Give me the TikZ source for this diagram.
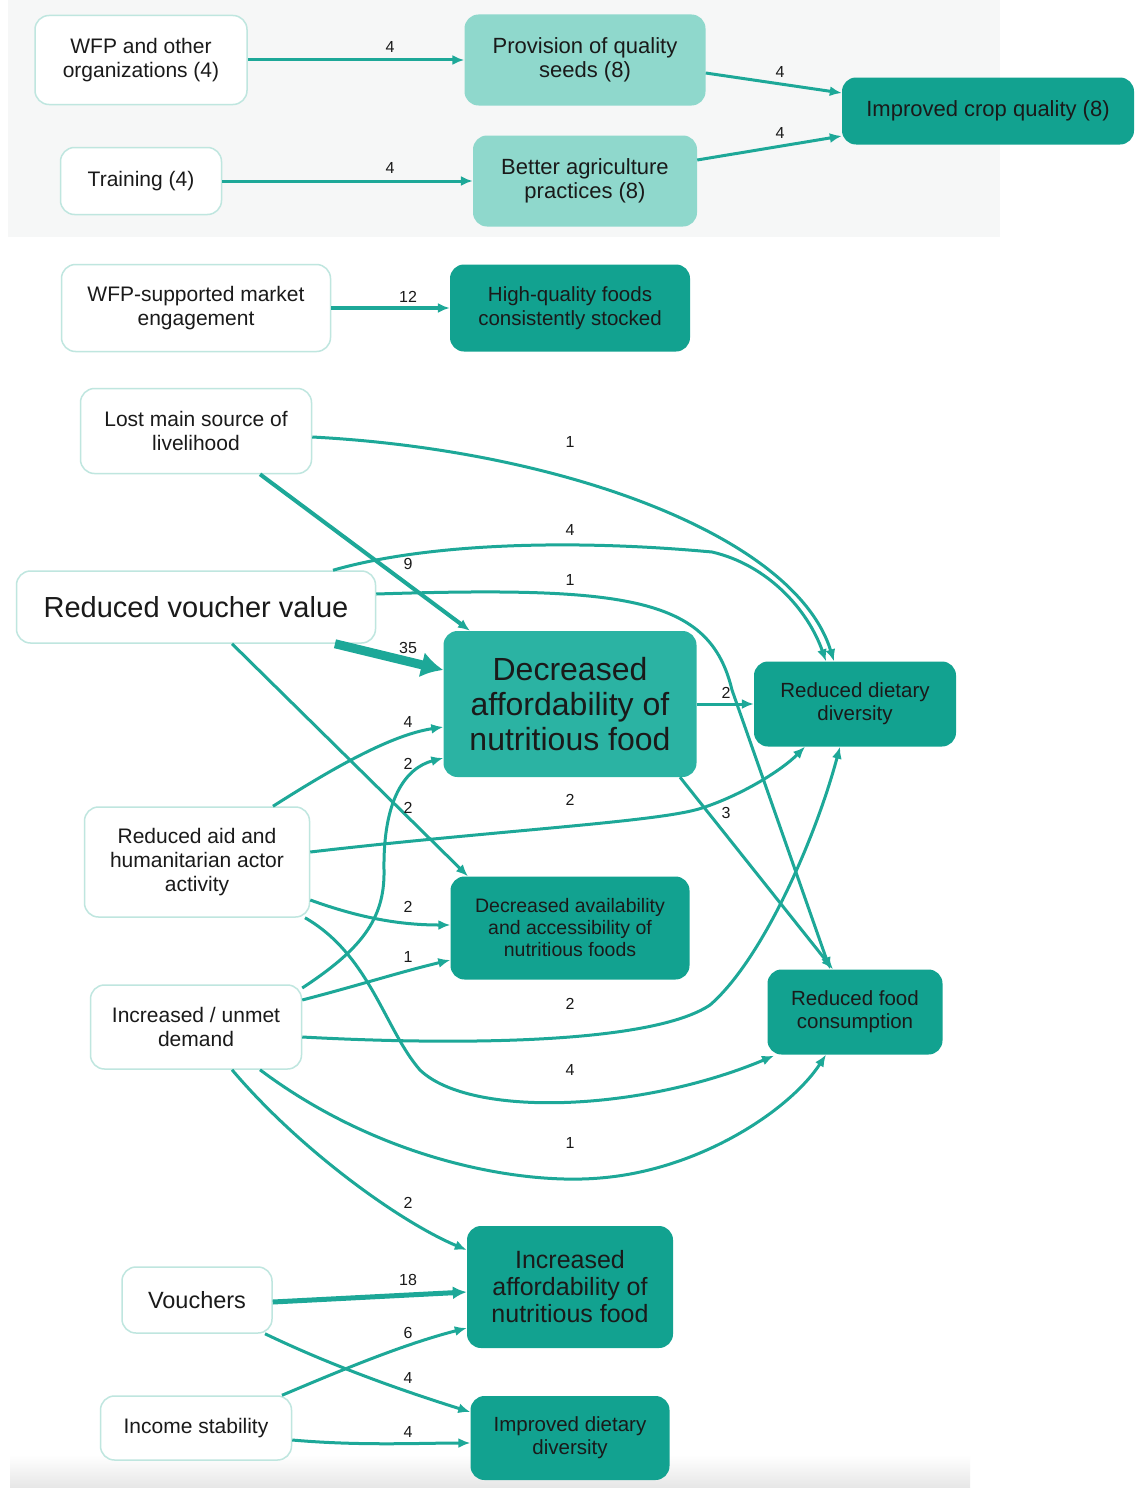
\documentclass[tikz,border=0pt]{standalone}
\usepackage{fontspec}
\setmainfont{Liberation Sans}
\usetikzlibrary{arrows.meta}
\definecolor{edgec}{HTML}{1DA898}
\definecolor{wborder}{HTML}{BFE6DF}
\definecolor{lightteal}{HTML}{8FD8CC}
\definecolor{darkteal}{HTML}{12A290}
\definecolor{midteal}{HTML}{2BB3A3}
\definecolor{txt}{HTML}{1A1A1A}
\definecolor{bgtop}{HTML}{F6F7F7}
\definecolor{bgbot}{HTML}{E6E6E6}
\tikzset{
  base/.style={rounded corners=14pt, align=center, inner sep=2pt, text=txt, font=\fontsize{21}{24}\selectfont},
  wnode/.style={base, draw=wborder, line width=1.5pt, fill=white},
  lnode/.style={base, fill=lightteal, draw=none},
  dnode/.style={base, fill=darkteal, draw=none},
  mnode/.style={base, fill=midteal, draw=none},
  lbl/.style={font=\fontsize{16}{18}\selectfont, text=txt, inner sep=0pt},
  edge/.style={draw=edgec, line width=3pt, -{Latex[length=12pt,width=10pt]}},
}
\begin{document}
\begin{tikzpicture}[x=1pt,y=-1pt]
\useasboundingbox (0,0) rectangle (1135,1488);
\fill[white] (0,0) rectangle (1135,1488);
\fill[bgtop] (8,0) rectangle (1000,237);
\shade[top color=white, bottom color=bgbot] (10,1455) rectangle (970,1488);

% ---------- nodes ----------
\node[wnode, minimum width=212pt, minimum height=89pt] (wfp) at (141,60) {WFP and other\\organizations (4)};
\node[wnode, minimum width=161pt, minimum height=67pt] (train) at (141,181) {Training (4)};
\node[lnode, minimum width=241pt, minimum height=91pt, font=\fontsize{22}{24}\selectfont] (seeds) at (585,60) {Provision of quality\\seeds (8)};
\node[lnode, minimum width=224pt, minimum height=91pt, font=\fontsize{22}{24}\selectfont] (agri) at (585,181) {Better agriculture\\practices (8)};
\node[dnode, minimum width=292pt, minimum height=67pt, font=\fontsize{22}{24}\selectfont] (crop) at (988,111) {Improved crop quality (8)};

\node[wnode, minimum width=269pt, minimum height=87pt] (market) at (196,308) {WFP-supported market\\engagement};
\node[dnode, minimum width=240pt, minimum height=87pt, font=\fontsize{20.5}{24}\selectfont] (hq) at (570,308) {High-quality foods\\consistently stocked};

\node[wnode, minimum width=231pt, minimum height=85pt] (lost) at (196,431) {Lost main source of\\livelihood};
\node[wnode, minimum width=359pt, minimum height=72pt, font=\fontsize{29}{32}\selectfont] (rvv) at (196,607) {Reduced voucher value};
\node[mnode, minimum width=253pt, minimum height=146pt, font=\fontsize{32}{35}\selectfont] (daff) at (570,704) {Decreased\\affordability of\\nutritious food};
\node[dnode, minimum width=202pt, minimum height=85pt, font=\fontsize{20.5}{23}\selectfont] (rdd) at (855,704) {Reduced dietary\\diversity};
\node[wnode, minimum width=225pt, minimum height=110pt] (aid) at (197,862) {Reduced aid and\\humanitarian actor\\activity};
\node[dnode, minimum width=239pt, minimum height=103pt, font=\fontsize{19.5}{22}\selectfont] (davail) at (570,928) {Decreased availability\\and accessibility of\\nutritious foods};
\node[wnode, minimum width=211pt, minimum height=84pt] (demand) at (196,1027) {Increased / unmet\\demand};
\node[dnode, minimum width=175pt, minimum height=85pt, font=\fontsize{20.5}{23}\selectfont] (rfc) at (855,1012) {Reduced food\\consumption};

\node[dnode, minimum width=206pt, minimum height=122pt, font=\fontsize{25}{27}\selectfont] (iaff) at (570,1287) {Increased\\affordability of\\nutritious food};
\node[wnode, minimum width=150pt, minimum height=66pt, font=\fontsize{23.5}{26}\selectfont] (vouch) at (197,1300) {Vouchers};
\node[dnode, minimum width=199pt, minimum height=84pt, font=\fontsize{20.5}{23}\selectfont] (idd) at (570,1438) {Improved dietary\\diversity};
\node[wnode, minimum width=191pt, minimum height=64pt] (income) at (196,1428) {Income stability};

% ---------- edges ----------
\draw[edge] (wfp.east) -- (seeds.west);
\draw[edge] (train.east) -- (agri.west);
\draw[edge] ([yshift=-13pt]seeds.east) -- ([yshift=18pt]crop.west);
\draw[edge] ([yshift=21pt]agri.east) -- ([yshift=-25pt]crop.west);
\draw[edge, line width=4pt] (market.east) -- (hq.west);

\draw[edge] ([yshift=-6pt]lost.east) .. controls (560,450) and (795,535) .. ([xshift=-21pt]rdd.north);
\draw[edge, line width=4pt] ([xshift=64pt]lost.south) -- ([xshift=-100pt]daff.north);
\draw[edge] ([xshift=137pt]rvv.north) .. controls (420,545) and (560,538) .. (712,552) .. controls (768,565) and (808,610) .. ([xshift=-29pt]rdd.north);
\draw[edge] ([yshift=13pt]rvv.east) .. controls (630,586) and (710,598) .. (732,690) -- ([xshift=-25pt]rfc.north);
\draw[draw=edgec, line width=9pt, -{Latex[length=22pt,width=26pt]}] ([xshift=139pt]rvv.south) -- ([yshift=34pt]daff.west);
\draw[edge] ([xshift=36pt]rvv.south) -- ([xshift=-102pt]davail.north);
\draw[edge] (daff.east) -- (rdd.west);
\draw[edge] ([xshift=110pt]daff.south) -- ([xshift=-22pt]rfc.north);

\draw[edge] ([xshift=76pt]aid.north) .. controls (330,770) and (390,735) .. ([yshift=-23pt]daff.west);
\draw[edge] ([yshift=39pt]demand.east) .. controls (360,950) and (385,920) .. (384,870) .. controls (383,800) and (405,768) .. ([yshift=-54pt]daff.west);
\draw[edge] ([yshift=10pt]aid.east) .. controls (500,830) and (660,822) .. (702,808) .. controls (742,795) and (782,770) .. ([xshift=-50pt]rdd.south);
\draw[edge] ([yshift=-38pt]aid.east) .. controls (360,918) and (400,925) .. ([yshift=3pt]davail.west);
\draw[edge] ([xshift=108pt]aid.south) .. controls (370,955) and (385,1030) .. (420,1070) .. controls (470,1118) and (640,1112) .. ([xshift=-81pt,yshift=-1pt]rfc.south);
\draw[edge] ([yshift=27pt]demand.east) .. controls (360,985) and (400,972) .. ([yshift=-32pt]davail.west);
\draw[edge] ([yshift=-10pt]demand.east) .. controls (450,1045) and (650,1045) .. (710,1005) .. controls (762,960) and (815,840) .. ([xshift=-15pt]rdd.south);
\draw[edge] ([xshift=64pt]demand.south) .. controls (380,1160) and (520,1185) .. (600,1178) .. controls (700,1170) and (790,1110) .. ([xshift=-29pt]rfc.south);
\draw[edge] ([xshift=36pt]demand.south) .. controls (300,1150) and (400,1222) .. ([yshift=37pt]iaff.west);

\draw[edge, line width=5pt, -{Latex[length=14pt,width=13pt]}] ([yshift=-2pt]vouch.east) -- ([yshift=-5pt]iaff.west);
\draw[edge] ([xshift=68pt]vouch.south) .. controls (330,1365) and (400,1390) .. ([yshift=26pt]idd.west);
\draw[edge] ([xshift=86pt]income.north) .. controls (330,1375) and (400,1345) .. ([yshift=-41pt]iaff.west);
\draw[edge] ([yshift=-12pt]income.east) .. controls (360,1446) and (420,1443) .. ([yshift=-5pt]idd.west);

% ---------- labels ----------
\node[lbl] (l1) at (390,47) {4};
\node[lbl] (l2) at (390,168) {4};
\node[lbl] (l3) at (780,72) {4};
\node[lbl] (l4) at (780,133) {4};
\node[lbl] (l5) at (408,297) {12};
\node[lbl] (l6) at (570,442) {1};
\node[lbl] (l7) at (408,564) {9};
\node[lbl] (l8) at (570,530) {4};
\node[lbl] (l9) at (570,580) {1};
\node[lbl] (l10) at (408,648) {35};
\node[lbl] (l11) at (408,808) {2};
\node[lbl] (l12) at (726,693) {2};
\node[lbl] (l13) at (726,813) {3};
\node[lbl] (l14) at (408,722) {4};
\node[lbl] (l15) at (408,764) {2};
\node[lbl] (l16) at (570,800) {2};
\node[lbl] (l17) at (408,907) {2};
\node[lbl] (l18) at (570,1070) {4};
\node[lbl] (l19) at (408,957) {1};
\node[lbl] (l20) at (570,1004) {2};
\node[lbl] (l21) at (570,1143) {1};
\node[lbl] (l22) at (408,1203) {2};
\node[lbl] (l23) at (408,1280) {18};
\node[lbl] (l24) at (408,1378) {4};
\node[lbl] (l25) at (408,1333) {6};
\node[lbl] (l26) at (408,1432) {4};
\end{tikzpicture}
\end{document}
